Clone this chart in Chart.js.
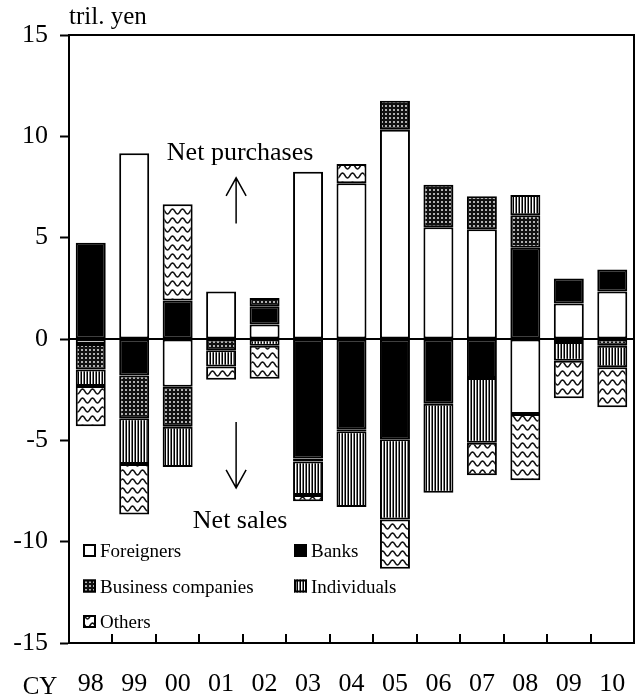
<!DOCTYPE html>
<html>
<head>
<meta charset="utf-8">
<script src="https://cdn.jsdelivr.net/npm/chart.js@4"></script>
<style>
  body { margin: 0; background: #fff; }
  .chart { width: 638px; height: 700px; }
</style>
</head>
<body>
<div class="chart"><canvas id="flows"></canvas></div>
<script>
// net purchases (+) / net sales (-) of stocks, tril. yen
const years = ['98', '99', '00', '01', '02', '03', '04', '05', '06', '07', '08', '09', '10'];
const foreigners  = [-0.25, 9.17, -2.35, 2.34, 0.72, 8.25, 7.69, 10.33, 5.51, 5.41, -3.7, 1.75, 2.34];
const banks       = [4.75, -1.8, 1.9, 0, 0.9, -5.9, -4.45, -4.95, -3.2, -1.93, 4.5, 1.23, 1.09];
const business    = [-1.25, -2.11, -1.98, -0.56, 0.4, -0.15, -0.1, 1.42, 2.1, 1.63, 1.6, -0.15, -0.33];
const individuals = [-0.82, -2.26, -1.98, -0.8, -0.33, -1.65, -3.74, -3.96, -4.39, -3.19, 1.0, -0.92, -1.07];
const others      = [-1.98, -2.49, 4.75, -0.65, -1.63, -0.3, 0.95, -2.43, 0, -1.6, -3.27, -1.85, -1.97];
const yTicks = [-15, -10, -5, 0, 5, 10, 15];

const SERIF = '"Liberation Serif", "Times New Roman", serif';
Chart.defaults.font.family = SERIF;
Chart.defaults.color = '#000';

const canvas = document.getElementById('flows');
const ctx = canvas.getContext('2d');

function tile(w, h, draw) {
    const c = document.createElement('canvas');
    c.width = w;
    c.height = h;
    draw(c.getContext('2d'));
    return ctx.createPattern(c, 'repeat');
}

const dotted = tile(4, 4, g => {
    g.fillStyle = '#111';
    g.fillRect(0, 0, 4, 4);
    g.fillStyle = '#b0b0b0';
    g.fillRect(1, 1, 2, 2);
});
const striped = tile(3, 2, g => {
    g.fillStyle = '#000';
    g.fillRect(0, 0, 1, 2);
    g.fillStyle = '#fff';
    g.fillRect(1, 0, 1, 2);
    g.fillStyle = '#777';
    g.fillRect(2, 0, 1, 2);
});
const wavy = tile(10, 9, g => {
    g.fillStyle = '#fff';
    g.fillRect(0, 0, 10, 9);
    g.strokeStyle = '#111';
    g.lineWidth = 1.5;
    g.beginPath();
    for (let x = -1; x <= 11; x += 0.5) {
        const y = 4.5 - 2.4 * Math.sin(2 * Math.PI * x / 10);
        if (x === -1) g.moveTo(x, y); else g.lineTo(x, y);
    }
    g.stroke();
});

function series(label, data, fill) {
    return {
        label, data,
        backgroundColor: fill,
        borderColor: '#000',
        borderWidth: 2,
        borderSkipped: false,
        barPercentage: 0.69,
        categoryPercentage: 1
    };
}

const legendRows = [
    ['Foreigners', 'Banks'],
    ['Business companies', 'Individuals'],
    ['Others']
];

const extras = {
    id: 'extras',
    afterDatasetsDraw(chart) {
        const { ctx: c, chartArea: a, scales: { x, y } } = chart;
        c.save();
        // zero line
        c.strokeStyle = '#000';
        c.lineWidth = 2;
        c.beginPath();
        c.moveTo(a.left, y.getPixelForValue(0));
        c.lineTo(a.right, y.getPixelForValue(0));
        c.stroke();
        // frame
        c.strokeRect(a.left, a.top, a.right - a.left, a.bottom - a.top);
        // inner ticks on category boundaries
        const half = (x.getPixelForValue(1) - x.getPixelForValue(0)) / 2;
        for (let i = 0; i < years.length - 1; i++) {
            const px = Math.round(x.getPixelForValue(i) + half);
            c.beginPath();
            c.moveTo(px, a.bottom);
            c.lineTo(px, a.bottom - 9);
            c.stroke();
        }

        // annotations
        const cx = x.getPixelForValue(3) + 15;
        c.fillStyle = '#000';
        c.textAlign = 'center';
        c.textBaseline = 'alphabetic';
        c.font = '26px ' + SERIF;
        c.fillText('Net purchases', cx + 4, y.getPixelForValue(8.85));
        c.fillText('Net sales', cx + 4, y.getPixelForValue(-9.35));
        c.lineWidth = 1.5;
        const arrow = (y0, y1) => {
            const d = y1 > y0 ? -1 : 1;
            c.beginPath();
            c.moveTo(cx, y0);
            c.lineTo(cx, y1);
            c.moveTo(cx - 10, y1 + d * 18);
            c.lineTo(cx, y1);
            c.lineTo(cx + 10, y1 + d * 18);
            c.stroke();
        };
        arrow(y.getPixelForValue(5.7), y.getPixelForValue(7.95));
        arrow(y.getPixelForValue(-4.1), y.getPixelForValue(-7.35));

        // legend
        c.font = '19px ' + SERIF;
        c.textAlign = 'left';
        const byLabel = {};
        chart.data.datasets.forEach(d => { byLabel[d.label] = d; });
        legendRows.forEach((row, r) => {
            row.forEach((name, k) => {
                const bx = a.left + 14 + k * 211;
                const by = a.top + 509 + r * 35.5;
                c.fillStyle = byLabel[name].backgroundColor;
                c.fillRect(bx, by, 13, 13);
                c.lineWidth = 2;
                c.strokeRect(bx + 1, by + 1, 11, 11);
                c.fillStyle = '#000';
                c.fillText(name, bx + 17, by + 13);
            });
        });

        // axis captions
        c.font = '25px ' + SERIF;
        c.fillText('tril. yen', a.left, 24);
        c.textAlign = 'center';
        c.fillText('CY', 40, 694);
        c.restore();
    }
};

new Chart(ctx, {
    type: 'bar',
    data: {
        labels: years,
        datasets: [
            series('Foreigners', foreigners, '#fff'),
            series('Banks', banks, '#000'),
            series('Business companies', business, dotted),
            series('Individuals', individuals, striped),
            series('Others', others, wavy)
        ]
    },
    options: {
        responsive: true,
        maintainAspectRatio: false,
        animation: false,
        layout: { padding: { top: 35, right: 4, left: 0, bottom: 0 } },
        plugins: {
            legend: { display: false },
            tooltip: { enabled: false }
        },
        scales: {
            x: {
                stacked: true,
                afterFit: s => { s.height = 57; },
                grid: { display: true, drawOnChartArea: false, drawTicks: true, tickLength: 24, tickColor: 'rgba(0,0,0,0)' },
                border: { color: '#000', width: 2 },
                ticks: {
                    font: { size: 26 },
                    padding: 2,
                    maxRotation: 0,
                    autoSkip: false
                }
            },
            y: {
                stacked: true,
                min: -15,
                max: 15,
                afterFit: s => { s.width = 69; },
                afterBuildTicks: s => { s.ticks = yTicks.map(v => ({ value: v })); },
                grid: { drawOnChartArea: false, tickLength: 9, tickColor: '#000', tickWidth: 2 },
                border: { color: '#000', width: 2 },
                ticks: {
                    font: { size: 26 },
                    padding: 12
                }
            }
        }
    },
    plugins: [extras]
});
</script>
</body>
</html>
